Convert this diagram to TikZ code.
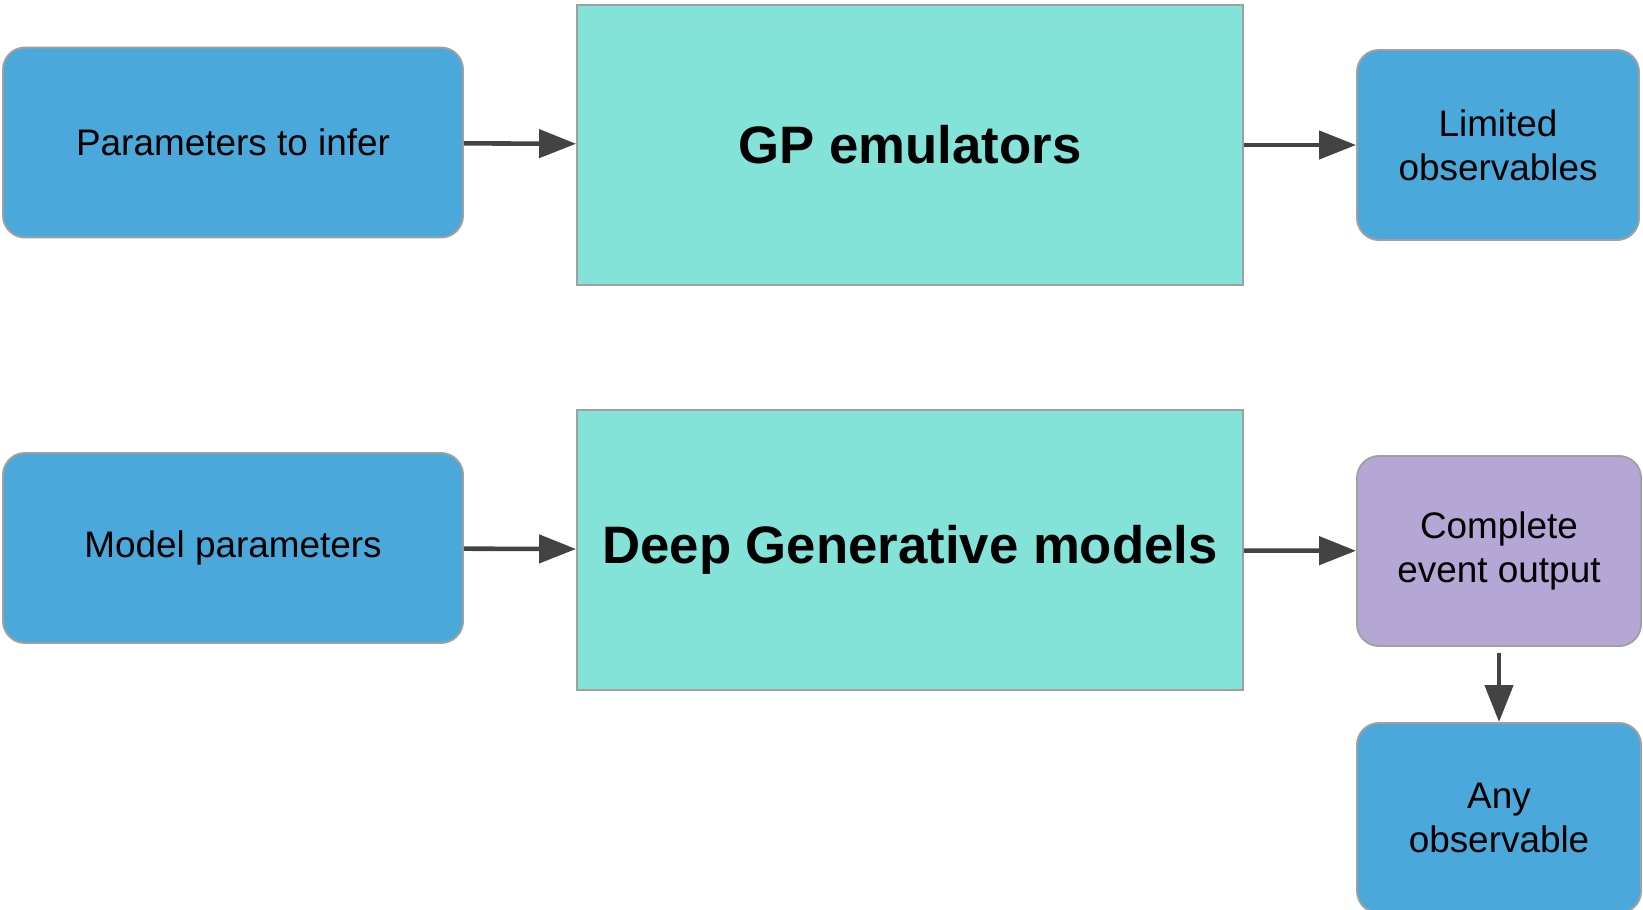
\documentclass[tikz,border=0pt]{standalone}
\usepackage{fontspec}
\setmainfont{Liberation Sans}
\usetikzlibrary{arrows.meta}
\definecolor{boxblue}{HTML}{4AA8DB}
\definecolor{boxteal}{HTML}{84E3D9}
\definecolor{boxlilac}{HTML}{B4A7D6}
\definecolor{edgegray}{HTML}{A0A0A0}
\definecolor{arrowgray}{HTML}{434343}
\begin{document}
\begin{tikzpicture}[
	rbox/.style={draw=edgegray, line width=1.1pt, rounded corners=0.44cm, fill=boxblue, align=center, minimum height=3.8cm, font=\fontsize{21}{25}\selectfont},
	mbox/.style={draw=edgegray, line width=1.1pt, fill=boxteal, align=center, minimum width=13.32cm, minimum height=5.6cm, font=\fontsize{30}{36}\selectfont\bfseries},
	flow/.style={draw=arrowgray, line width=2.6pt, -{Triangle[length=0.74cm,width=0.56cm]}}
	]
		\useasboundingbox (0,0) rectangle (32.86,-18.18);

		\node[rbox, minimum width=9.2cm] (pin) at (4.66,-2.85) {Parameters to infer};
		\node[mbox] (gp) at (18.2,-2.9) {GP emulators};
		\node[rbox, minimum width=5.64cm] (lim) at (29.96,-2.9) {Limited\\observables};

		\node[rbox, minimum width=9.2cm] (mp) at (4.66,-10.96) {Model parameters};
		\node[mbox] (dgm) at (18.2,-11.0) {Deep Generative models};
		\node[rbox, minimum width=5.68cm, fill=boxlilac] (ceo) at (29.98,-11.02) {Complete\\event output};
		\node[rbox, minimum width=5.68cm] (any) at (29.98,-16.36) {Any\\observable};

		\draw[flow] (pin) to (gp); \draw[flow] (gp) to (lim);
		\draw[flow] (mp) to (dgm); \draw[flow] (dgm) to (ceo);
		\draw[flow] ([yshift=-0.12cm]ceo.south) to (any);
\end{tikzpicture}
\end{document}
